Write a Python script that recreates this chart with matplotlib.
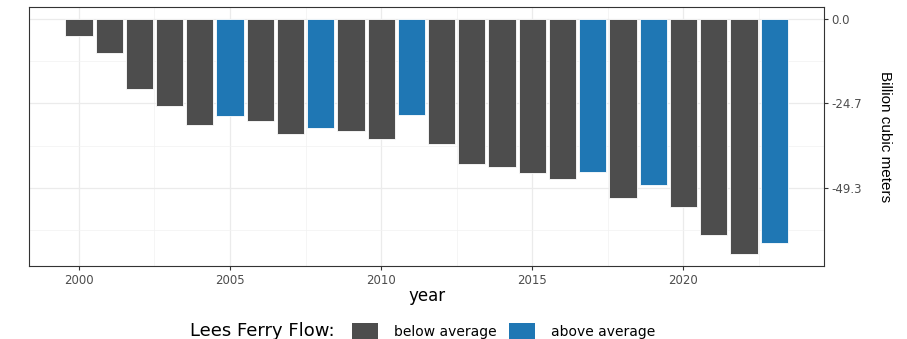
import matplotlib.pyplot as plt
from matplotlib.patches import Patch

plt.rcParams['font.family'] = ['DejaVu Sans']

years = list(range(2000, 2024))
# cumulative departure from average flow, billion m^3
deficit = [-5.0, -9.9, -20.4, -25.4, -31.0, -28.3, -29.7, -33.6, -31.9, -32.7,
           -35.1, -28.2, -36.6, -42.5, -43.2, -45.1, -46.7, -44.7, -52.3, -48.5,
           -54.9, -63.2, -68.8, -65.6]
flow = ['below', 'below', 'below', 'below', 'below', 'above', 'below', 'below',
        'above', 'below', 'below', 'above', 'below', 'below', 'below', 'below',
        'below', 'above', 'below', 'above', 'below', 'below', 'below', 'above']
yticks = [0.0, -24.7, -49.3]

colors = {'below': '#4d4d4d', 'above': '#1f77b4'}

fig = plt.figure(figsize=(9.07, 3.39), dpi=100)
ax = fig.add_axes([0.032, 0.215, 0.8765, 0.764])

ax.bar(years, deficit, width=0.9, color=[colors[f] for f in flow],
       edgecolor='white', linewidth=0.6, zorder=3)

lo = min(deficit)
pad = 0.05 * (0 - lo)
ax.set_ylim(lo - pad, pad)
ax.set_xlim(1998.35, 2024.65)

ax.set_xticks([2000, 2005, 2010, 2015, 2020])
ax.set_xticks([2002.5, 2007.5, 2012.5, 2017.5, 2022.5], minor=True)
ax.set_yticks(yticks)
ax.set_yticklabels([f'{v:.1f}' for v in yticks])
ax.set_yticks([-12.35, -37.0, -61.65], minor=True)

ax.yaxis.tick_right()
ax.grid(which='major', color='#ebebeb', linewidth=0.9, zorder=0)
ax.grid(which='minor', color='#f2f2f2', linewidth=0.5, zorder=0)
ax.tick_params(which='major', length=3, width=0.8, color='#333333',
               labelsize=8.5, labelcolor='#4d4d4d', pad=2.5)
ax.tick_params(which='minor', length=0)
for s in ax.spines.values():
    s.set_color('#333333')
    s.set_linewidth(0.8)

ax.set_xlabel('year', fontsize=12, labelpad=0)
fig.text(885 / 907, 1 - 137 / 339, 'Billion cubic meters', fontsize=11,
         rotation=270, ha='center', va='center', family='Liberation Sans')

fig.text(190 / 907, 1 - 331 / 339, 'Lees Ferry Flow:', fontsize=13,
         ha='left', va='center')
handles = [Patch(facecolor=colors['below'], label='below average'),
           Patch(facecolor=colors['above'], label='above average')]
fig.legend(handles=handles, loc='center left', ncol=2, frameon=False,
           bbox_to_anchor=(352 / 907, 1 - 331 / 339), fontsize=10,
           handlelength=1.85, handleheight=1.4, handletextpad=1.15,
           columnspacing=0.95, borderpad=0, borderaxespad=0)

fig.savefig('out.png', dpi=100)
